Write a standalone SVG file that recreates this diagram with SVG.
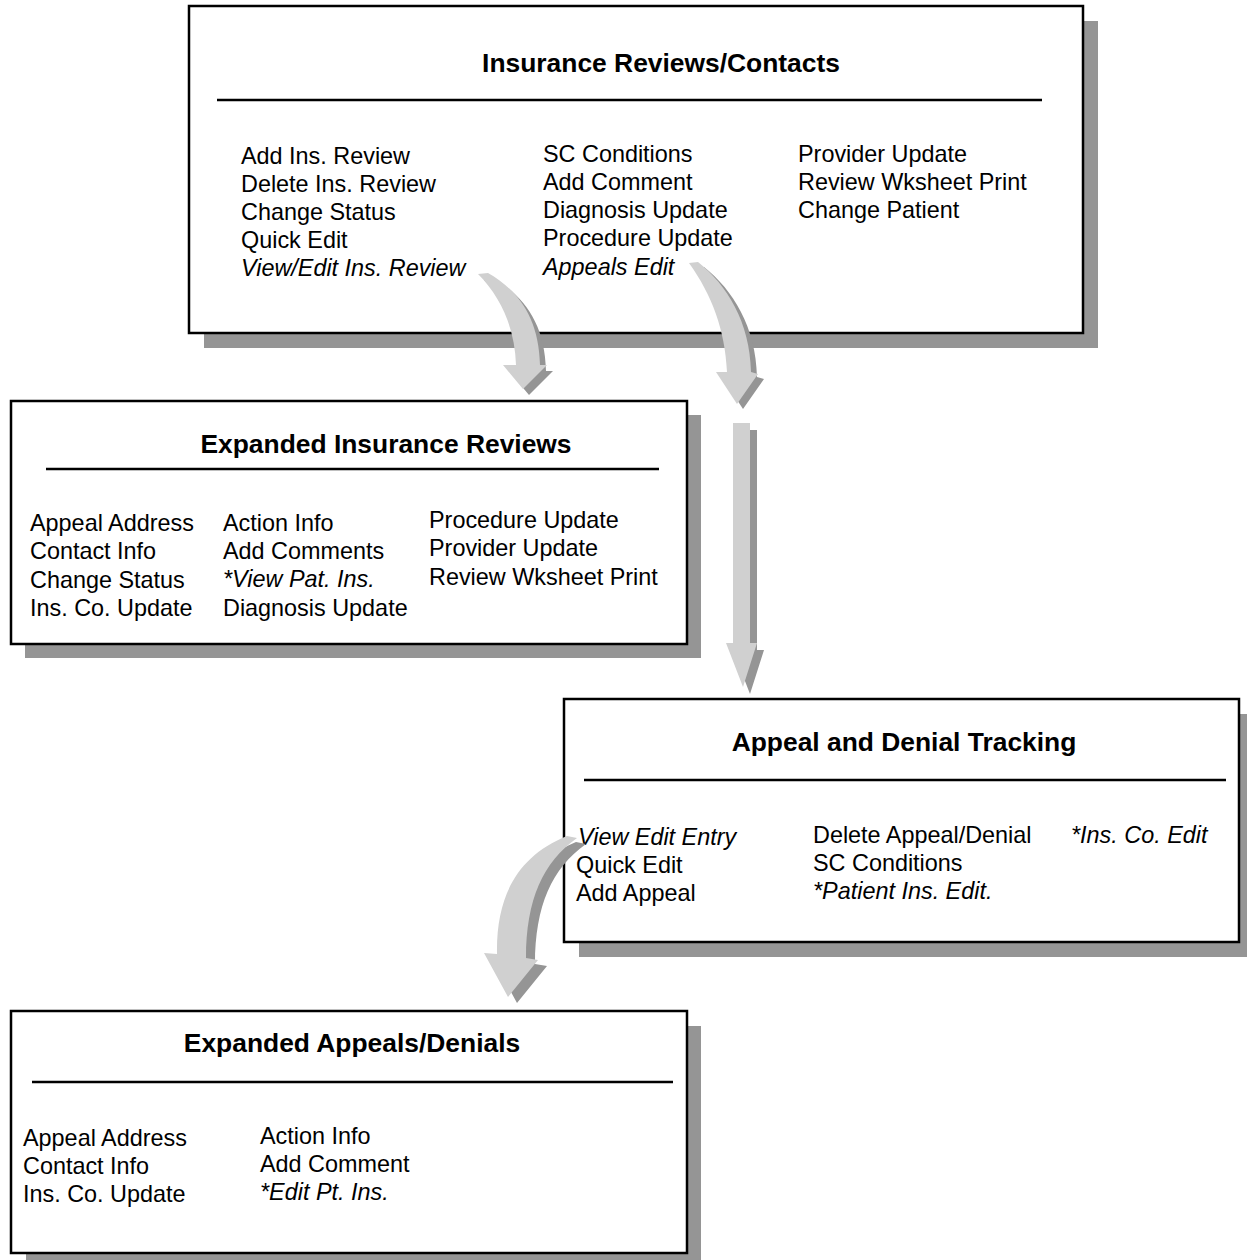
<svg xmlns="http://www.w3.org/2000/svg" width="1247" height="1260" viewBox="0 0 1247 1260">
<style>
.bg{fill:#ffffff}
.shadow{fill:#959595}
.box{fill:#ffffff;stroke:#000000;stroke-width:2.5}
.rule{stroke:#000000;stroke-width:2.5}
.title{font-family:"Liberation Sans",Arial,sans-serif;font-size:26.4px;font-weight:bold;fill:#000;text-anchor:middle}
.t{font-family:"Liberation Sans",Arial,sans-serif;font-size:23.4px;fill:#000}
.i{font-style:italic}
.al{fill:#d0d0d0}
.ad{fill:#959595}
</style>
<rect class="bg" x="0" y="0" width="1247" height="1260"/>

<g id="node-insurance-reviews">
<rect class="shadow" x="204" y="21" width="894" height="327"/>
<rect class="box" x="189" y="6" width="894" height="327"/>
<text class="title" x="661" y="72">Insurance Reviews/Contacts</text>
<line class="rule" x1="217" y1="100" x2="1042" y2="100"/>
<text class="t" x="241" y="164">Add Ins. Review</text>
<text class="t" x="241" y="192">Delete Ins. Review</text>
<text class="t" x="241" y="220">Change Status</text>
<text class="t" x="241" y="248">Quick Edit</text>
<text class="t i" x="241" y="276">View/Edit Ins. Review</text>
<text class="t" x="543" y="162">SC Conditions</text>
<text class="t" x="543" y="190">Add Comment</text>
<text class="t" x="543" y="218">Diagnosis Update</text>
<text class="t" x="543" y="246">Procedure Update</text>
<text class="t i" x="543" y="275">Appeals Edit</text>
<text class="t" x="798" y="162">Provider Update</text>
<text class="t" x="798" y="190">Review Wksheet Print</text>
<text class="t" x="798" y="218">Change Patient</text>
</g>

<g id="node-expanded-insurance-reviews">
<rect class="shadow" x="25" y="415" width="676" height="243"/>
<rect class="box" x="11" y="401" width="676" height="243"/>
<text class="title" x="386" y="453">Expanded Insurance Reviews</text>
<line class="rule" x1="46" y1="469" x2="659" y2="469"/>
<text class="t" x="30" y="531">Appeal Address</text>
<text class="t" x="30" y="559">Contact Info</text>
<text class="t" x="30" y="588">Change Status</text>
<text class="t" x="30" y="616">Ins. Co. Update</text>
<text class="t" x="223" y="531">Action Info</text>
<text class="t" x="223" y="559">Add Comments</text>
<text class="t i" x="223" y="587">*View Pat. Ins.</text>
<text class="t" x="223" y="616">Diagnosis Update</text>
<text class="t" x="429" y="528">Procedure Update</text>
<text class="t" x="429" y="556">Provider Update</text>
<text class="t" x="429" y="585">Review Wksheet Print</text>
</g>

<g id="node-appeal-denial-tracking">
<rect class="shadow" x="579" y="714" width="675" height="243"/>
<rect class="box" x="564" y="699" width="675" height="243"/>
<text class="title" x="904" y="751">Appeal and Denial Tracking</text>
<line class="rule" x1="584" y1="780" x2="1226" y2="780"/>
<text class="t i" x="578" y="845">View Edit Entry</text>
<text class="t" x="576" y="873">Quick Edit</text>
<text class="t" x="576" y="901">Add Appeal</text>
<text class="t" x="813" y="843">Delete Appeal/Denial</text>
<text class="t" x="813" y="871">SC Conditions</text>
<text class="t i" x="813" y="899">*Patient Ins. Edit.</text>
<text class="t i" x="1071" y="843">*Ins. Co. Edit</text>
</g>

<g id="node-expanded-appeals-denials">
<rect class="shadow" x="26" y="1026" width="675" height="242"/>
<rect class="box" x="11" y="1011" width="676" height="242"/>
<text class="title" x="352" y="1052">Expanded Appeals/Denials</text>
<line class="rule" x1="32" y1="1082" x2="673" y2="1082"/>
<text class="t" x="23" y="1146">Appeal Address</text>
<text class="t" x="23" y="1174">Contact Info</text>
<text class="t" x="23" y="1202">Ins. Co. Update</text>
<text class="t" x="260" y="1144">Action Info</text>
<text class="t" x="260" y="1172">Add Comment</text>
<text class="t i" x="260" y="1200">*Edit Pt. Ins.</text>
</g>

<g id="connectors">
<defs>
<path id="arr1" d="M 478,274 L 488,273 C 518,290 539,318 540,365 L 547,365 L 523,389 L 503,365 L 516,365 C 515,330 502,298 478,274 Z"/>
<path id="arr2" d="M 689,263 L 698,262 C 727,285 750,322 751,372 L 758,374 L 737,404 L 716,372 L 727,372 C 725,330 712,295 689,263 Z"/>
<path id="arr3" d="M 733,423 L 750,423 L 750,643 L 757,643 L 743,687 L 726,643 L 733,643 Z"/>
<path id="arr4" d="M 567,836 L 577,838 C 543,862 526,900 526,958 L 538,960 L 508,997 L 484,953 L 497,954 C 496,895 518,856 567,836 Z"/>
</defs>
<use href="#arr1" class="ad" transform="translate(6,6)"/>
<use href="#arr1" class="al"/>
<use href="#arr2" class="ad" transform="translate(6,5)"/>
<use href="#arr2" class="al"/>
<use href="#arr3" class="ad" transform="translate(7,7)"/>
<use href="#arr3" class="al"/>
<use href="#arr4" class="ad" transform="translate(9,6)"/>
<use href="#arr4" class="al"/>
</g>
</svg>
